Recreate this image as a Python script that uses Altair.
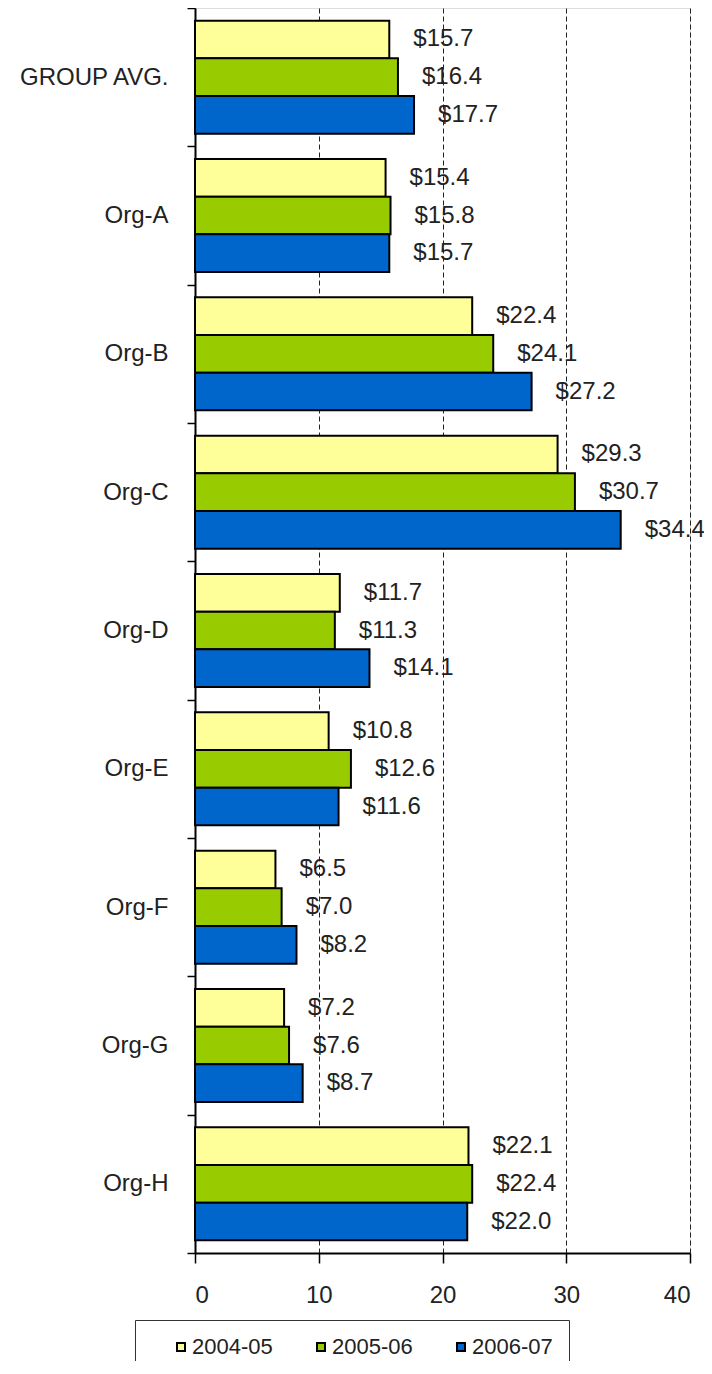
import altair as alt
import pandas as pd

categories = ["GROUP AVG.", "Org-A", "Org-B", "Org-C", "Org-D", "Org-E", "Org-F", "Org-G", "Org-H"]
series = ["2004-05", "2005-06", "2006-07"]
v_2004_05 = [15.7, 15.4, 22.4, 29.3, 11.7, 10.8, 6.5, 7.2, 22.1]
v_2005_06 = [16.4, 15.8, 24.1, 30.7, 11.3, 12.6, 7.0, 7.6, 22.4]
v_2006_07 = [17.7, 15.7, 27.2, 34.4, 14.1, 11.6, 8.2, 8.7, 22.0]
colors = ["#FFFF99", "#99CC00", "#0066CC"]
x_ticks = [0, 10, 20, 30, 40]

rows = []
for s, vals in zip(series, [v_2004_05, v_2005_06, v_2006_07]):
    for c, v in zip(categories, vals):
        rows.append({"org": c, "year": s, "value": v})
df = pd.DataFrame(rows)

FONT = "Liberation Sans"

base = alt.Chart(df).transform_calculate(
    label="'$' + format(datum.value, '.1f')"
)

y_enc = alt.Y(
    "org:N",
    sort=categories,
    scale=alt.Scale(paddingInner=0, paddingOuter=0),
    axis=alt.Axis(
        title=None,
        tickBand="extent",
        tickSize=8,
        tickColor="black",
        tickWidth=1.5,
        domainColor="black",
        domainWidth=2,
        labelPadding=19,
        labelFontSize=24,
        labelFont=FONT,
        labelColor="#222222",
        grid=False,
    ),
)
yoff_enc = alt.YOffset(
    "year:N",
    sort=series,
    scale=alt.Scale(paddingInner=0, paddingOuter=0.336),
)
x_enc = alt.X(
    "value:Q",
    scale=alt.Scale(domain=[0, 40], nice=False),
    axis=alt.Axis(
        title=None,
        values=x_ticks,
        tickSize=10,
        tickColor="black",
        tickWidth=1.5,
        domainColor="black",
        domainWidth=2,
        labelPadding=20,
        labelFontSize=24,
        labelFont=FONT,
        labelColor="#222222",
        grid=True,
        gridColor="#222222",
        gridDash=[5, 3],
        gridWidth=1,
    ),
)

bars = base.mark_bar(stroke="black", strokeWidth=2).encode(
    y=y_enc,
    yOffset=yoff_enc,
    x=x_enc,
    color=alt.Color(
        "year:N",
        sort=series,
        scale=alt.Scale(domain=series, range=colors),
        legend=alt.Legend(
            title=None,
            orient="none",
            legendX=-60,
            legendY=1312,
            direction="horizontal",
            symbolType="square",
            symbolSize=64,
            symbolStrokeColor="black",
            symbolStrokeWidth=2,
            symbolOffset=19,
            labelFontSize=22,
            labelFont=FONT,
            labelColor="#222222",
            labelOffset=0,
            columnPadding=18,
            padding=16,
            strokeColor="#333333",
        ),
    ),
)

labels = base.mark_text(
    align="left", baseline="middle", dx=24, fontSize=24, font=FONT, color="#222222"
).encode(
    y=alt.Y("org:N", sort=categories),
    yOffset=alt.YOffset("year:N", sort=series),
    x=alt.X("value:Q"),
    text="label:N",
)

chart = (
    alt.layer(bars, labels)
    .properties(
        width=495,
        height=1245,
        autosize=alt.AutoSizeParams(type="none"),
        padding={"left": 187, "top": 0, "right": 14, "bottom": 108},
    )
    .configure_view(stroke="#808080", strokeWidth=2)
    .configure(background="white")
)

chart.save("out.html", embed_options={"renderer": "svg", "actions": False})
